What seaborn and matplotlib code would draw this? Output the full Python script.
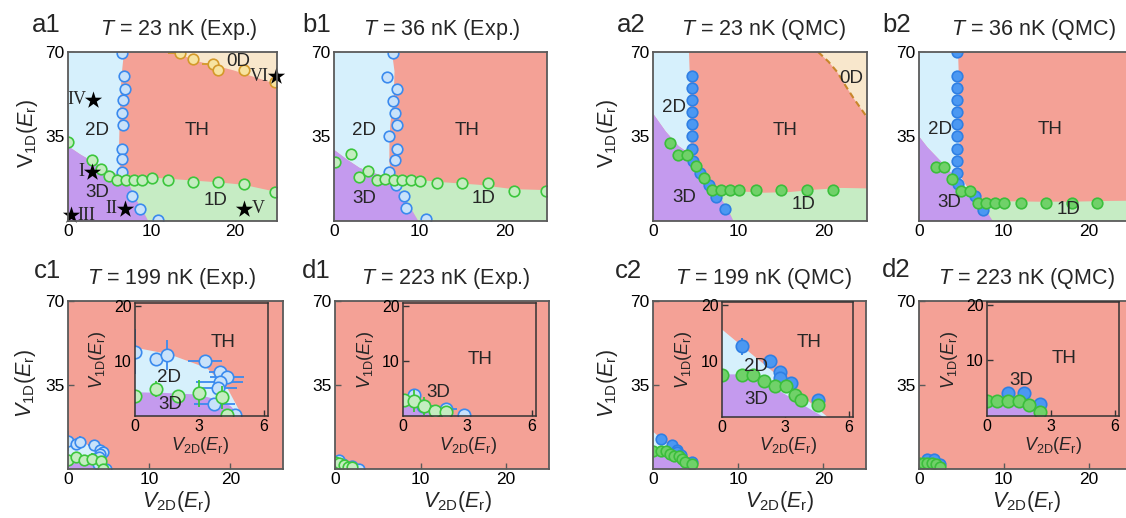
import numpy as np
import matplotlib
matplotlib.use('Agg')
import matplotlib.pyplot as plt
import seaborn as sns

sns.set_theme(style='ticks')
plt.rcParams['font.family'] = ['Liberation Sans', 'DejaVu Sans']
plt.rcParams['mathtext.fontset'] = 'custom'
plt.rcParams['mathtext.rm'] = 'Liberation Sans'
plt.rcParams['mathtext.it'] = 'Liberation Sans:italic'

# ---------------- colours ----------------
C_TH = '#F4A196'
C_2D = '#D6F0FC'
C_3D = '#C49AEE'
C_1D = '#C6ECC4'
C_0D = '#F8E7CC'
EXP_BLUE = ('#C8E2FA', '#3A8AEE')
EXP_GREEN = ('#C4EDC0', '#3CC63C')
EXP_ORANGE = ('#F7E3A0', '#D49A2A')
QMC_BLUE = ('#4B98F2', '#2F7FE3')
QMC_GREEN = ('#70D169', '#3BBE3B')

# ---------------- data: a1 (T=23 nK, Exp.) ----------------
a1_blue_x = [6.5, 6.7, 6.8, 6.6, 6.5, 6.6, 6.5, 6.5, 6.5, 7.6, 8.6, 10.8]
a1_blue_y = [69.7, 60, 54.8, 50, 44.9, 39.9, 30, 25.6, 20.3, 10.2, 5.1, 0.3]
a1_green_x = [0, 2.9, 4, 4.9, 5.9, 6.9, 7.9, 8.9, 10, 12, 14.9, 17.9, 21, 24.8]
a1_green_y = [32.7, 25.4, 21.7, 18.6, 17.1, 16.9, 17.1, 16.9, 18, 16.9, 16.2, 16.2, 15.5, 12]
a1_orange_x = [13.4, 14.9, 17.4, 17.9, 21, 24.8]
a1_orange_y = [69.7, 67.3, 64.9, 62.4, 62.4, 57.6]
a1_orange_xerr_lo = [1.4, 0, 1.4, 0, 0, 0]
a1_star_x = [2.9, 6.8, 0.3, 3.0, 21.0, 24.9]
a1_star_y = [20.3, 5.1, 2.3, 50.3, 5.1, 60.0]
a1_star_lbl = ['I', 'II', 'III', 'IV', 'V', 'VI']
a1_2d_x = [6.7, 6.4, 6.2, 6.1, 6.2, 6.9]
a1_2d_y = [70, 60, 45, 30, 22, 18.3]
a1_3dtop_x = [0, 1.5, 3, 4.5, 5.5, 6.9]
a1_3dtop_y = [31, 27.5, 24.5, 21.5, 19.8, 18.3]
a1_3dright_x = [6.9, 7.6, 8.3, 9.0, 9.6]
a1_3dright_y = [18.3, 13, 8, 4, 0]
a1_1dtop_x = [6.9, 10, 14, 18, 21, 25]
a1_1dtop_y = [18.3, 18, 17, 16, 15, 12]
a1_0d_x = [12.5, 15.8, 19.8, 25]
a1_0d_y = [70, 65.9, 62.4, 56.6]

# ---------------- data: b1 (T=36 nK, Exp.) ----------------
b1_blue_x = [6.95, 6.25, 7.35, 6.95, 7.15, 7.35, 6.45, 7.35, 7.15, 6.45, 7.27, 8.2, 8.45, 10.8]
b1_blue_y = [69.6, 59.7, 54.6, 49.8, 44.9, 39.8, 35, 29.9, 25.1, 20.3, 15.1, 10.3, 5.2, 0.7]
b1_green_x = [0.1, 1.96, 2.95, 4, 5, 6, 7, 8, 9, 10.1, 12.1, 15, 18.1, 21.1, 24.9]
b1_green_y = [24.4, 27.7, 18.3, 20.6, 16.9, 17.2, 16.9, 16.9, 16.9, 16.5, 15.8, 15.8, 15.8, 12.6, 12.6]
b1_2d_x = [6.8, 7.1, 7.0, 6.6, 6.5, 6.5, 6.9]
b1_2d_y = [70, 62, 50, 40, 32, 24, 17.6]
b1_3dtop_x = [0, 1.5, 3, 4.5, 6, 6.9]
b1_3dtop_y = [29.5, 25.5, 22, 20, 18.5, 17.6]
b1_3dright_x = [6.9, 7.8, 8.9, 9.9]
b1_3dright_y = [17.6, 12, 6, 0]
b1_1dtop_x = [6.9, 10, 13, 17, 21, 25]
b1_1dtop_y = [17.6, 17, 16, 15, 13.2, 12.8]

# ---------------- data: a2 (T=23 nK, QMC) ----------------
a2_blue_x = [4.6, 4.6, 4.6, 4.6, 4.6, 4.6, 4.6, 4.7, 5.5, 6.6, 7.4, 8.4]
a2_blue_y = [60, 55, 50, 45, 40, 35, 30, 25, 20, 15, 10, 5]
a2_green_x = [1.95, 2.9, 4, 5, 6, 6.95, 8, 9, 10, 12, 14.9, 18, 21]
a2_green_y = [32.3, 27.4, 27.4, 22.6, 17.8, 12.8, 12.8, 12.8, 12.8, 12.8, 12.8, 12.8, 13]
a2_2d_x = [4.2, 4.3, 4.3, 4.35, 4.4, 4.6]
a2_2d_y = [70, 60, 45, 35, 30, 27]
a2_3dtop_x = [0, 1.5, 3, 4.6, 5.5, 6.5, 7.2]
a2_3dtop_y = [44.5, 37, 31, 27, 21.5, 16.5, 13.5]
a2_3dright_x = [7.2, 8, 8.8, 9.4]
a2_3dright_y = [13.5, 9, 4.5, 0]
a2_1dtop_x = [7.2, 10, 13, 16, 19, 22, 25]
a2_1dtop_y = [13.5, 12.3, 11.7, 12, 13, 13.7, 13.5]
a2_0d_x = [19.3, 20.5, 21.5, 22.5, 23.5, 25]
a2_0d_y = [70, 66, 61.8, 56, 50.5, 43]

# ---------------- data: b2 (T=36 nK, QMC) ----------------
b2_blue_x = [4.5, 4.5, 4.5, 4.5, 4.5, 4.5, 4.5, 4.5, 4.5, 4.5, 4.6, 6.6, 7.55]
b2_blue_y = [70, 60, 55, 50, 45, 40, 35, 30, 25, 20, 15.3, 10.4, 4.7]
b2_green_x = [1.96, 2.97, 3.95, 5, 6, 7, 7.95, 9, 10, 12.05, 15, 18, 21]
b2_green_y = [22.5, 22.5, 17.4, 12.5, 12.5, 7.5, 7.5, 7.5, 7.5, 7.5, 7.5, 7.5, 7.5]
b2_2d_x = [4.6, 4.7, 4.75, 4.8, 5.0, 5.6, 6.8, 7.2]
b2_2d_y = [70, 60, 40, 25, 18, 14.5, 9.5, 8.5]
b2_3dtop_x = [0, 1, 2.5, 4, 5.5, 7.2]
b2_3dtop_y = [35, 30.5, 25, 19, 13.5, 8.5]
b2_3dright_x = [7.2, 7.8, 8.7]
b2_3dright_y = [8.5, 5, 0]
b2_1dtop_x = [7.2, 10, 14, 18, 22, 25]
b2_1dtop_y = [8.5, 8.2, 8, 8, 8.3, 8.4]

# ---------------- data: c1 (T=199 nK, Exp.) ----------------
c1_blue_x = [0, 1.0, 1.5, 3.25, 3.95, 4.3, 3.95, 3.85, 3.7, 4.65]
c1_blue_y = [11.7, 10.4, 11.1, 10.0, 8.0, 7.0, 6.2, 5.0, 2.1, 0.1]
c1_blue_xerr = [0, 0, 0, 0.8, 0.5, 0.8, 1.1, 0.9, 0.95, 0]
c1_blue_yerr = [4.0, 1.0, 2.7, 0, 0, 0, 0, 0, 0, 0]
c1_green_x = [0, 1.0, 2.0, 3.0, 4.05, 4.3]
c1_green_y = [3.6, 4.9, 3.7, 4.1, 3.4, 0.1]
c1_green_yerr = [0, 1.5, 1.0, 2.4, 2.1, 0]
c1_2d_x = [0, 1.6, 3.35, 4.3, 5.0]
c1_2d_y = [12.4, 11.2, 8.7, 5.1, 0]
c1_3d_x = [0, 1.3, 2.9, 3.8, 4.46, 4.9]
c1_3d_y = [4.3, 4.2, 3.9, 3.0, 1.8, 0]

# ---------------- data: d1 (T=223 nK, Exp.) ----------------
d1_blue_x = [0.5, 0.95, 2.0, 2.85]
d1_blue_y = [3.9, 1.9, 1.2, 0.1]
d1_blue_xerr = [0, 0.6, 0.5, 0]
d1_blue_yerr = [1.0, 0, 0, 0]
d1_green_x = [0.05, 0.5, 1.0, 1.5, 2.0]
d1_green_y = [2.9, 2.7, 1.8, 0.9, 0.7]
d1_green_yerr = [0, 2.0, 1.6, 0, 0]
d1_3d_x = [0, 0.6, 1.1, 1.6, 2.2, 2.7]
d1_3d_y = [3.3, 3.0, 1.8, 0.9, 0.4, 0]

# ---------------- data: c2 (T=199 nK, QMC) ----------------
c2_blue_x = [0.96, 2.25, 2.76, 2.76, 3.28, 4.55]
c2_blue_y = [12.6, 10.0, 8.1, 6.9, 6.0, 3.1]
c2_blue_xerr = [0, 0, 0, 0, 0, 0.3]
c2_blue_yerr = [1.5, 0, 0, 0, 0, 0]
c2_green_x = [0, 0.96, 1.48, 2.0, 2.52, 3.03, 3.44, 3.72, 4.55]
c2_green_y = [7.5, 7.5, 7.5, 6.4, 5.5, 5.5, 4.0, 3.0, 2.1]
c2_2d_x = [0, 5.0]
c2_2d_y = [15.6, 0]
c2_3d_x = [0, 1.4, 4.8]
c2_3d_y = [7.6, 7.6, 0]

# ---------------- data: d2 (T=223 nK, QMC) ----------------
d2_blue_x = [0.98, 1.76, 2.5]
d2_blue_y = [4.1, 4.1, 2.1]
d2_blue_xerr = [0, 0, 0.3]
d2_green_x = [0, 0.48, 0.98, 1.49, 1.99, 2.5]
d2_green_y = [2.7, 2.7, 2.7, 2.7, 1.9, 0.7]
d2_3d_x = [0, 1.7, 2.3, 2.8]
d2_3d_y = [2.4, 2.4, 1.2, 0]

# ---------------- figure ----------------
W, H = 1126, 518
fig = plt.figure(figsize=(W / 100, H / 100), dpi=100)


def add_ax(l, t, r, b):
    return fig.add_axes([l / W, 1 - b / H, (r - l) / W, (b - t) / H])


def ftext(x, y, s, **kw):
    fig.text(x / W, 1 - y / H, s, **kw)


def style(ax, xlim, ylim, xt, yt, fs, sc, lw):
    ax.set_facecolor(C_TH)
    ax.set_xlim(xlim)
    ax.set_ylim(ylim)
    ax.set_xticks(xt)
    ax.set_yticks(yt)
    ax.tick_params(direction='in', length=4, width=1, color=sc, labelsize=fs,
                   pad=2.5, labelcolor='black')
    for s in ax.spines.values():
        s.set_visible(True)
        s.set_color(sc)
        s.set_linewidth(lw)
        s.set_zorder(10)
    ax.set_xlabel('')
    ax.set_ylabel('')
    ax.grid(False)


def fill(ax, xs, ys, color):
    ax.fill(xs, ys, color=color, lw=0, zorder=1)


def pts(ax, x, y, cols, s, z=3, xerr=None, yerr=None):
    if xerr is not None or yerr is not None:
        ax.errorbar(x, y, xerr=xerr, yerr=yerr, fmt='none', ecolor=cols[1],
                    elinewidth=1.3, capsize=0, zorder=z - 0.5)
    sns.scatterplot(x=x, y=y, ax=ax, s=s, color=cols[0], edgecolor=cols[1],
                    linewidth=1.2, zorder=z, legend=False)
    ax.set_xlabel('')
    ax.set_ylabel('')


def top_regions(ax, dx, dy, tx, ty, rx, ry, ox, oy, xmax=25, ymax=70):
    fill(ax, [0] + list(dx) + list(tx[::-1]), [ymax] + list(dy) + list(ty[::-1]), C_2D)
    fill(ax, [0] + list(tx) + list(rx[1:]), [0] + list(ty) + list(ry[1:]), C_3D)
    fill(ax, list(rx) + [xmax] + list(ox[::-1]), list(ry) + [0] + list(oy[::-1]), C_1D)


MAIN_FS = 12.5
REG_FS = 13.5
MS = 58
SPINE = '#5a5a5a'

# ---- top row main axes ----
ax_a1 = add_ax(68, 52, 277, 221)
ax_b1 = add_ax(334, 52, 547, 221)
ax_a2 = add_ax(653, 52, 867, 221)
ax_b2 = add_ax(919, 52, 1131, 221)

for ax in (ax_a1, ax_b1, ax_a2, ax_b2):
    style(ax, (0, 25), (0, 70), [0, 10, 20], [35, 70], MAIN_FS, SPINE, 1.3)

# a1
top_regions(ax_a1, a1_2d_x, a1_2d_y, a1_3dtop_x, a1_3dtop_y, a1_3dright_x, a1_3dright_y,
            a1_1dtop_x, a1_1dtop_y)
fill(ax_a1, a1_0d_x + [25], a1_0d_y + [70], C_0D)
pts(ax_a1, a1_blue_x, a1_blue_y, EXP_BLUE, MS)
pts(ax_a1, a1_green_x, a1_green_y, EXP_GREEN, MS, z=4)
pts(ax_a1, a1_orange_x, a1_orange_y, EXP_ORANGE, MS, z=4,
    xerr=[a1_orange_xerr_lo, [0] * len(a1_orange_x)])
sns.scatterplot(x=a1_star_x, y=a1_star_y, ax=ax_a1, marker='*', s=170, color='black',
                linewidth=0, zorder=6, legend=False, clip_on=False)
ax_a1.set_xlabel('')
ax_a1.set_ylabel('')
star_off = {'I': (-0.9, 'right'), 'II': (-0.9, 'right'), 'III': (0.8, 'left'),
            'IV': (-0.8, 'right'), 'V': (1.0, 'left'), 'VI': (-0.9, 'right')}
for sx, sy, lb in zip(a1_star_x, a1_star_y, a1_star_lbl):
    dx, ha = star_off[lb]
    ax_a1.text(sx + dx, sy, lb, ha=ha, va='center', fontsize=13,
               family='Liberation Serif', zorder=7)
ax_a1.text(20.4, 66, '0D', ha='center', va='center', fontsize=REG_FS, zorder=7)
ax_a1.text(15.4, 37.5, 'TH', ha='center', va='center', fontsize=REG_FS, zorder=7)
ax_a1.text(3.5, 37.5, '2D', ha='center', va='center', fontsize=REG_FS, zorder=7)
ax_a1.text(3.5, 12, '3D', ha='center', va='center', fontsize=REG_FS, zorder=7)
ax_a1.text(17.6, 8.6, '1D', ha='center', va='center', fontsize=REG_FS, zorder=7)

# b1
top_regions(ax_b1, b1_2d_x, b1_2d_y, b1_3dtop_x, b1_3dtop_y, b1_3dright_x, b1_3dright_y,
            b1_1dtop_x, b1_1dtop_y)
pts(ax_b1, b1_blue_x, b1_blue_y, EXP_BLUE, MS)
pts(ax_b1, b1_green_x, b1_green_y, EXP_GREEN, MS, z=4)
ax_b1.text(3.5, 37.3, '2D', ha='center', va='center', fontsize=REG_FS, zorder=7)
ax_b1.text(15.6, 37.3, 'TH', ha='center', va='center', fontsize=REG_FS, zorder=7)
ax_b1.text(3.6, 9.2, '3D', ha='center', va='center', fontsize=REG_FS, zorder=7)
ax_b1.text(17.6, 9.2, '1D', ha='center', va='center', fontsize=REG_FS, zorder=7)

# a2
fill(ax_a2, [0] + a2_2d_x + a2_3dtop_x[:4][::-1], [70] + a2_2d_y + a2_3dtop_y[:4][::-1], C_2D)
fill(ax_a2, [0] + a2_3dtop_x + a2_3dright_x[1:], [0] + a2_3dtop_y + a2_3dright_y[1:], C_3D)
fill(ax_a2, a2_3dright_x + [25] + a2_1dtop_x[::-1], a2_3dright_y + [0] + a2_1dtop_y[::-1], C_1D)
fill(ax_a2, a2_0d_x + [25], a2_0d_y + [70], C_0D)
ax_a2.plot(a2_0d_x, a2_0d_y, ls=(0, (3, 2)), color='#C8862A', lw=1.5, zorder=2)
pts(ax_a2, a2_blue_x, a2_blue_y, QMC_BLUE, MS)
pts(ax_a2, a2_green_x, a2_green_y, QMC_GREEN, MS, z=4)
ax_a2.text(2.5, 47, '2D', ha='center', va='center', fontsize=REG_FS, zorder=7)
ax_a2.text(15.4, 37.3, 'TH', ha='center', va='center', fontsize=REG_FS, zorder=7)
ax_a2.text(3.6, 9.6, '3D', ha='center', va='center', fontsize=REG_FS, zorder=7)
ax_a2.text(17.6, 6.9, '1D', ha='center', va='center', fontsize=REG_FS, zorder=7)
ax_a2.text(23.2, 59, '0D', ha='center', va='center', fontsize=REG_FS, zorder=7, clip_on=False)

# b2
top_regions(ax_b2, b2_2d_x, b2_2d_y, b2_3dtop_x, b2_3dtop_y, b2_3dright_x, b2_3dright_y,
            b2_1dtop_x, b2_1dtop_y)
pts(ax_b2, b2_blue_x, b2_blue_y, QMC_BLUE, MS)
pts(ax_b2, b2_green_x, b2_green_y, QMC_GREEN, MS, z=4)
ax_b2.text(2.5, 37.8, '2D', ha='center', va='center', fontsize=REG_FS, zorder=7)
ax_b2.text(15.5, 37.8, 'TH', ha='center', va='center', fontsize=REG_FS, zorder=7)
ax_b2.text(3.6, 7.6, '3D', ha='center', va='center', fontsize=REG_FS, zorder=7)
ax_b2.text(17.6, 4.7, '1D', ha='center', va='center', fontsize=REG_FS, zorder=7)

# ---- bottom row main axes + insets ----
ax_c1 = add_ax(68, 301, 283, 469)
ax_d1 = add_ax(335, 301, 549, 469)
ax_c2 = add_ax(653, 301, 866, 469)
ax_d2 = add_ax(919, 301, 1131, 469)
style(ax_c1, (0, 26.5), (0, 70), [0, 10, 20], [35, 70], MAIN_FS, SPINE, 1.3)
for ax in (ax_d1, ax_c2, ax_d2):
    style(ax, (0, 25), (0, 70), [0, 10, 20], [35, 70], MAIN_FS, SPINE, 1.3)

in_c1 = add_ax(135, 303, 268, 416)
in_d1 = add_ax(403, 303, 536, 416)
in_c2 = add_ax(722, 302, 853, 417)
in_d2 = add_ax(987, 302, 1119, 416)
for ax in (in_c1, in_d1, in_c2, in_d2):
    style(ax, (0, 6.2), (0, 20.5), [0, 3, 6], [10, 20], 11.5, '#333333', 1.1)

IN_MS = 80
for ax, s in ((ax_c1, MS), (in_c1, IN_MS)):
    fill(ax, [0] + c1_2d_x, [0] + c1_2d_y, C_2D)
    fill(ax, [0] + c1_3d_x, [0] + c1_3d_y, C_3D)
    pts(ax, c1_blue_x, c1_blue_y, EXP_BLUE, s, xerr=c1_blue_xerr, yerr=c1_blue_yerr)
    pts(ax, c1_green_x, c1_green_y, EXP_GREEN, s, z=4, yerr=c1_green_yerr)

for ax, s in ((ax_d1, MS), (in_d1, IN_MS)):
    fill(ax, [0] + d1_3d_x, [0] + d1_3d_y, C_3D)
    pts(ax, d1_blue_x, d1_blue_y, EXP_BLUE, s, xerr=d1_blue_xerr, yerr=d1_blue_yerr)
    pts(ax, d1_green_x, d1_green_y, EXP_GREEN, s, z=4, yerr=d1_green_yerr)

for ax, s in ((ax_c2, MS), (in_c2, IN_MS)):
    fill(ax, [0] + c2_2d_x, [0] + c2_2d_y, C_2D)
    fill(ax, [0] + c2_3d_x, [0] + c2_3d_y, C_3D)
    pts(ax, c2_blue_x, c2_blue_y, QMC_BLUE, s, xerr=c2_blue_xerr, yerr=c2_blue_yerr)
    pts(ax, c2_green_x, c2_green_y, QMC_GREEN, s, z=4)

for ax, s in ((ax_d2, MS), (in_d2, IN_MS)):
    fill(ax, [0] + d2_3d_x, [0] + d2_3d_y, C_3D)
    pts(ax, d2_blue_x, d2_blue_y, QMC_BLUE, s, xerr=d2_blue_xerr)
    pts(ax, d2_green_x, d2_green_y, QMC_GREEN, s, z=4)

# inset region labels
in_c1.text(4.1, 13.3, 'TH', ha='center', va='center', fontsize=REG_FS, zorder=7)
in_c1.text(1.6, 7.0, '2D', ha='center', va='center', fontsize=REG_FS, zorder=7)
in_c1.text(1.65, 2.1, '3D', ha='center', va='center', fontsize=REG_FS, zorder=7)
in_d1.text(3.6, 10.2, 'TH', ha='center', va='center', fontsize=REG_FS, zorder=7)
in_d1.text(1.64, 4.2, '3D', ha='center', va='center', fontsize=REG_FS, zorder=7)
in_c2.text(4.1, 13.2, 'TH', ha='center', va='center', fontsize=REG_FS, zorder=7)
in_c2.text(1.6, 9.0, '2D', ha='center', va='center', fontsize=REG_FS, zorder=7)
in_c2.text(1.6, 3.1, '3D', ha='center', va='center', fontsize=REG_FS, zorder=7)
in_d2.text(3.6, 10.3, 'TH', ha='center', va='center', fontsize=REG_FS, zorder=7)
in_d2.text(1.63, 6.4, '3D', ha='center', va='center', fontsize=REG_FS, zorder=7)

# ---- titles and panel letters ----
TITLE_FS = 15.5
titles = [(179, 34.5, '23', 'Exp.'), (442, 34.5, '36', 'Exp.'),
          (763, 34.5, '23', 'QMC'), (1033, 34.5, '36', 'QMC'),
          (172, 284, '199', 'Exp.'), (446, 284, '223', 'Exp.'),
          (763, 284, '199', 'QMC'), (1026, 284, '223', 'QMC')]
for x, y, t, kind in titles:
    ftext(x, y, r'$T$ = %s nK (%s)' % (t, kind), ha='center', va='baseline', fontsize=TITLE_FS)

letters = [(32, 31.7, 'a1'), (302, 31.7, 'b1'), (617, 31.7, 'a2'), (882, 31.7, 'b2'),
           (34, 278, 'c1'), (302, 278, 'd1'), (615, 278, 'c2'), (882, 277, 'd2')]
for x, y, s in letters:
    ftext(x, y, s, ha='left', va='baseline', fontsize=18.5)

# ---- axis labels ----
LAB_FS = 15.5
for x, y in ((27, 133), (608, 133)):
    ftext(x, y, r'V$_{\rm 1D}$($E_{\rm r}$)', rotation=90, ha='center', va='center', fontsize=LAB_FS)
for x, y in ((25, 383), (608, 383)):
    ftext(x, y, r'$V_{\rm 1D}$($E_{\rm r}$)', rotation=90, ha='center', va='center', fontsize=LAB_FS)
for x in (177, 458, 780, 1027):
    ftext(x, 489, r'$V_{\rm 2D}$($E_{\rm r}$)', ha='center', va='top', fontsize=LAB_FS)

IN_LAB = 13
for x in (98, 365, 683, 950):
    ftext(x, 360, r'$V_{\rm 1D}$($E_{\rm r}$)', rotation=90, ha='center', va='center', fontsize=IN_LAB)
for x in (200, 468, 788, 1053):
    ftext(x, 445, r'$V_{\rm 2D}$($E_{\rm r}$)', ha='center', va='center', fontsize=IN_LAB)

fig.savefig('out.png', dpi=100, facecolor='white')
